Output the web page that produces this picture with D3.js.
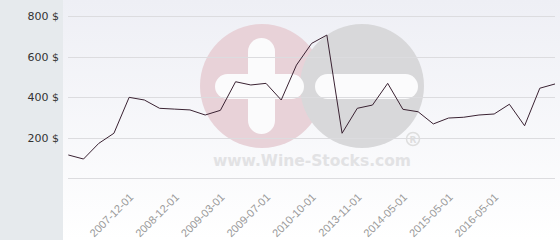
<!DOCTYPE html>
<html><head><meta charset="utf-8">
<script src="https://cdn.jsdelivr.net/npm/d3@7"></script>
<style>html,body{margin:0;padding:0;background:#fff;overflow:hidden}</style>
</head><body>
<svg id="c" width="560" height="240"></svg>
<script>
// categories (only every third one is labelled in the reference)
const categories = [
  null, null, null, null, "2007-12-01", null, null, "2008-12-01", null, null,
  "2009-03-01", null, null, "2009-07-01", null, null, "2010-10-01", null, null,
  "2013-11-01", null, null, "2014-05-01", null, null, "2015-05-01", null, null,
  "2016-05-01", null, null, null, null
];
const prices = [
  115, 95, 172, 222, 399, 386, 345, 341, 337, 312, 335, 476, 460, 468, 386,
  558, 665, 706, 222, 345, 361, 468, 340, 328, 268, 297, 301, 312, 317, 365,
  259, 444, 465
];
const yTicks = [200, 400, 600, 800];
const yGrid = [0, 200, 400, 600, 800];
const watermarkText = "www.Wine-Stocks.com";

const svg = d3.select("#c");
const W = 560, H = 240;
const plotLeft = 63;
const x = d3.scaleLinear().domain([0, prices.length - 1]).range([68.3, 555]);
const y = d3.scaleLinear().domain([0, 800]).range([178.3, 16]);

// background
const defs = svg.append("defs");
const g = defs.append("linearGradient").attr("id", "bg").attr("x1", 0).attr("y1", 0).attr("x2", 0).attr("y2", 1);
g.append("stop").attr("offset", "0%").attr("stop-color", "#eeeff5");
g.append("stop").attr("offset", "100%").attr("stop-color", "#ffffff");
svg.append("rect").attr("x", 0).attr("y", 0).attr("width", W).attr("height", H).attr("fill", "url(#bg)");
svg.append("rect").attr("x", 0).attr("y", 0).attr("width", plotLeft).attr("height", H).attr("fill", "#e6eaed");

// watermark
const wm = svg.append("g");
const r = 62, cy = 86;
wm.append("circle").attr("cx", 262).attr("cy", cy).attr("r", r).attr("fill", "#e8d2d8");
wm.append("circle").attr("cx", 362).attr("cy", cy).attr("r", r).attr("fill", "#d8d8da");
wm.append("rect").attr("x", 248).attr("y", 38).attr("width", 27).attr("height", 96).attr("rx", 13.5).attr("fill", "#fbfbfc");
wm.append("rect").attr("x", 215).attr("y", 74).attr("width", 89).attr("height", 25).attr("rx", 12.5).attr("fill", "#fbfbfc");
wm.append("rect").attr("x", 315).attr("y", 74).attr("width", 103).attr("height", 25).attr("rx", 12.5).attr("fill", "#fbfbfc");
wm.append("text").attr("x", 312).attr("y", 166).attr("text-anchor", "middle")
  .attr("font-family", "DejaVu Sans, sans-serif").attr("font-weight", "bold").attr("font-size", 15.5)
  .attr("fill", "#e2e2e4").text(watermarkText);
wm.append("circle").attr("cx", 413).attr("cy", 139).attr("r", 6.5).attr("fill", "none").attr("stroke", "#dedede").attr("stroke-width", 1.5);
wm.append("text").attr("x", 413).attr("y", 142.5).attr("text-anchor", "middle")
  .attr("font-family", "DejaVu Sans, sans-serif").attr("font-weight", "bold").attr("font-size", 9)
  .attr("fill", "#dedede").text("R");

// grid
svg.append("g").selectAll("line").data(yGrid).join("line")
  .attr("x1", 68).attr("x2", 555)
  .attr("y1", d => Math.round(y(d)) + 0.5).attr("y2", d => Math.round(y(d)) + 0.5)
  .attr("stroke", "#dcdcdf").attr("stroke-width", 1);

// y labels
svg.append("g").selectAll("text").data(yTicks).join("text")
  .attr("x", 59).attr("y", d => y(d) + 4)
  .attr("text-anchor", "end")
  .attr("font-family", "DejaVu Sans, sans-serif").attr("font-size", 11)
  .attr("fill", "#333").text(d => d + " $");

// x labels
const labelled = categories.map((c, i) => ({c, i})).filter(d => d.c);
svg.append("g").selectAll("text").data(labelled).join("text")
  .attr("transform", d => `translate(${x(d.i) + 5},${198}) rotate(-45)`)
  .attr("text-anchor", "end")
  .attr("font-family", "Liberation Sans, Arial, sans-serif").attr("font-size", 11)
  .attr("fill", "#999").text(d => d.c);

// line
const line = d3.line().x((d, i) => x(i)).y(d => y(d));
svg.append("path").datum(prices).attr("d", line)
  .attr("fill", "none").attr("stroke", "#3a2232").attr("stroke-width", 1);
</script>
</body></html>
